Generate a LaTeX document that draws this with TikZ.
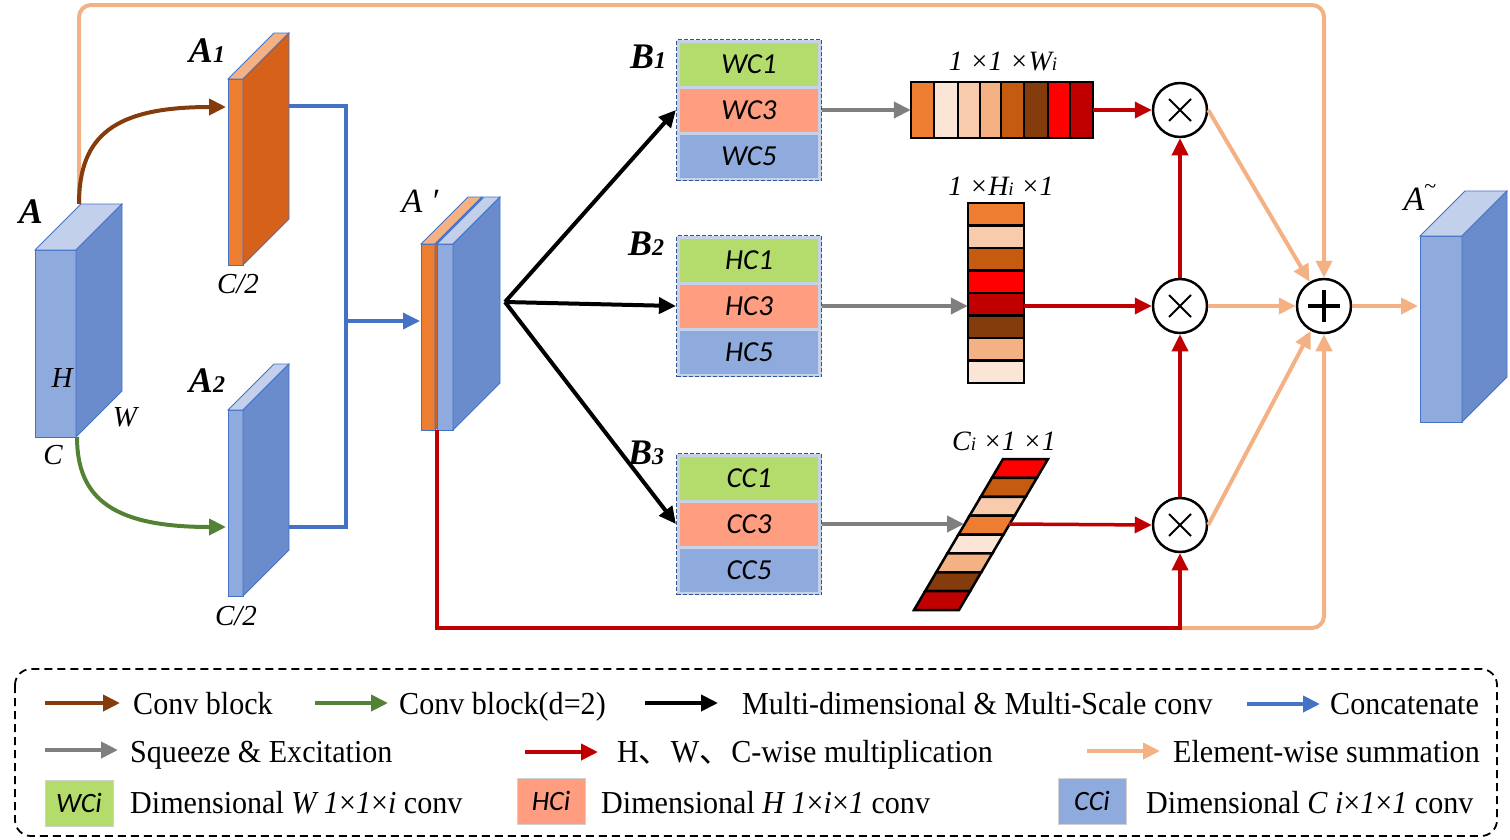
\documentclass[tikz,border=0pt]{standalone}
\usepackage{fontspec}
\setmainfont{Liberation Serif}
\newfontfamily\cali{Carlito}
\newfontfamily\cjk{Noto Sans CJK SC}
\newfontfamily\legf[FakeStretch=0.94]{Liberation Serif}
\usetikzlibrary{arrows.meta,calc}
\newcommand\myfs[1]{\fontsize{#1}{#1}\selectfont}
\definecolor{fblue}{HTML}{8FAADC}
\definecolor{sblue}{HTML}{6A8CCD}
\definecolor{tblue}{HTML}{C2D0EB}
\definecolor{eblue}{HTML}{4472C4}
\definecolor{forange}{HTML}{ED7D31}
\definecolor{sorange}{HTML}{D5611A}
\definecolor{torange}{HTML}{F4B183}
\definecolor{peach}{HTML}{F4B183}
\definecolor{cbrown}{HTML}{843C0C}
\definecolor{cgreen}{HTML}{548235}
\definecolor{cred}{HTML}{C00000}
\definecolor{cgray}{HTML}{7F7F7F}
\definecolor{cblue}{HTML}{4472C4}
\definecolor{cellg}{HTML}{B4DC6C}
\definecolor{cells}{HTML}{FF9D80}
\definecolor{cellb}{HTML}{8FAADC}
\definecolor{bbg}{HTML}{C5D2E8}
\definecolor{bdash}{HTML}{2F5597}
\definecolor{p1}{HTML}{ED7D31}
\definecolor{p2}{HTML}{FBE5D6}
\definecolor{p3}{HTML}{F8CBAD}
\definecolor{p4}{HTML}{F4B183}
\definecolor{p5}{HTML}{C55A11}
\definecolor{p6}{HTML}{843C0C}
\definecolor{p7}{HTML}{FF0000}
\definecolor{p8}{HTML}{C00000}
% x0 y0 w h d front side top
\newcommand\prism[8]{%
 \filldraw[draw=eblue, line width=0.8pt, fill=#6] (#1,#2) rectangle ++(#3,#4);
 \filldraw[draw=eblue, line width=0.8pt, fill=#8] (#1,#2) -- ++(#3,0) -- ++(#5,-#5) -- ++(-#3,0) -- cycle;
 \filldraw[draw=eblue, line width=0.8pt, fill=#7] (#1+#3,#2) -- ++(#5,-#5) -- ++(0,#4) -- ++(-#5,#5) -- cycle;
}
\tikzset{
 tipA/.style={-{Triangle[length=17pt,width=16pt]}},
 bboxst/.style={draw=bdash, dash pattern=on 4pt off 2pt, line width=1.2pt, fill=bbg, minimum width=145pt, minimum height=141pt, inner sep=0},
 cellst/.style={minimum width=138pt, minimum height=43pt, inner sep=0, font=\cali\itshape\myfs{29}},
 circ/.style={circle, draw=black, line width=2.5pt, minimum size=54pt, inner sep=0, fill=white},
 lbl/.style={inner sep=0, anchor=base},
 bigl/.style={lbl, font=\bfseries\itshape\myfs{36}},
 midl/.style={lbl, font=\itshape\myfs{29}},
 dimlbl/.style={lbl, font=\itshape\myfs{28}},
 legtxt/.style={inner sep=0, anchor=base west, font=\legf\myfs{32}},
 legarr/.style={line width=4pt, tipA},
 legsq/.style={draw=black!18, line width=0.8pt, minimum width=68pt, minimum height=46pt, inner sep=0, font=\cali\itshape\myfs{28}},
 barcell/.style={draw=black, line width=2.5pt},
}
\begin{document}
\begin{tikzpicture}[x=1pt,y=-1pt]
\useasboundingbox (0,0) rectangle (1510,839);

% ---------- cubes ----------
\prism{35}{250}{41}{187}{46}{fblue}{sblue}{tblue}
\prism{228}{79}{15}{186}{46}{forange}{sorange}{torange}
\prism{228}{410}{15}{186}{46}{fblue}{sblue}{tblue}
\prism{421}{244}{14}{186}{47}{forange}{sorange}{torange}
\prism{437}{244}{16}{186}{47}{fblue}{sblue}{tblue}
\prism{1420}{236}{42}{186}{45}{fblue}{sblue}{tblue}

\coordinate (Atop) at (79,204);
\coordinate (Abot) at (77,437);
\coordinate (A1in) at (226,107);
\coordinate (A2in) at (226,527);
\coordinate (A1out) at (289,106);
\coordinate (A2out) at (289,527);
\coordinate (Jc) at (346,321);
\coordinate (Apin) at (420,321);
\coordinate (Apout) at (505,302);
\coordinate (Apbot) at (437,430);
\coordinate (Atin) at (1418,306);

% ---------- labels ----------
\node[bigl] at (31,223) {A};
\node[bigl] at (207,62) {A\myfs{24}1};
\node[bigl] at (207,392) {A\myfs{24}2};
\node[midl] at (62,387) {H};
\node[midl] at (125,426) {W};
\node[midl] at (53,464) {C};
\node[midl] at (238,293) {C/2};
\node[midl] at (236,625) {C/2};
\node[lbl, font=\itshape\myfs{34}] at (420,212) {A \char"2032};
\node[lbl, font=\itshape\myfs{34}] at (1420,210) {A\raisebox{17pt}{\upshape\myfs{22}\textasciitilde}};

% ---------- B boxes ----------
\node[bboxst] (B1) at (749,110) {};
\node[cellst, fill=cellg] (wc1) at (749,64) {WC1};
\node[cellst, fill=cells] (wc3) at (749,110) {WC3};
\node[cellst, fill=cellb] (wc5) at (749,156) {WC5};
\node[bboxst] (B2) at (749,306) {};
\node[cellst, fill=cellg] (hc1) at (749,260) {HC1};
\node[cellst, fill=cells] (hc3) at (749,306) {HC3};
\node[cellst, fill=cellb] (hc5) at (749,352) {HC5};
\node[bboxst] (B3) at (749,524) {};
\node[cellst, fill=cellg] (cc1) at (749,478) {CC1};
\node[cellst, fill=cells] (cc3) at (749,524) {CC3};
\node[cellst, fill=cellb] (cc5) at (749,570) {CC5};
\node[bigl] at (648,68) {B\myfs{24}1};
\node[bigl] at (646,255) {B\myfs{24}2};
\node[bigl] at (646,464) {B\myfs{24}3};

% ---------- bars ----------
\foreach \xa/\xb/\c in {911/934/p1, 934/958/p2, 958/980/p3, 980/1001/p4, 1001/1024/p5, 1024/1048/p6, 1048/1070/p7, 1070/1093/p8}
  \filldraw[barcell, fill=\c] (\xa,82) rectangle (\xb,138);
\node[minimum width=182pt, minimum height=56pt, inner sep=0] (Wbar) at (1002,110) {};
\node[dimlbl] at (1003,70) {1 ×1 ×W{\myfs{19}i}};

\foreach \ya/\yb/\c in {203/225.5/p1, 225.5/248/p3, 248/270.5/p5, 270.5/293/p7, 293/315.5/p8, 315.5/338/p6, 338/360.5/p4, 360.5/383/p2}
  \filldraw[barcell, fill=\c] (968,\ya) rectangle (1024,\yb);
\node[minimum width=56pt, minimum height=180pt, inner sep=0] (Hbar) at (996,293) {};
\node[dimlbl] at (1001,195) {1 ×H{\myfs{19}i} ×1};

\foreach \ya/\xa/\yb/\xb/\c in {459/1003/477.875/991.875/p7, 477.875/991.875/496.75/980.75/p5, 496.75/980.75/515.625/969.625/p3, 515.625/969.625/534.5/958.5/p1, 534.5/958.5/553.375/947.375/p2, 553.375/947.375/572.25/936.25/p4, 572.25/936.25/591.125/925.125/p6, 591.125/925.125/610/914/p8}
  \filldraw[barcell, fill=\c, line join=miter] (\xa,\ya) -- (\xa+45,\ya) -- (\xb+45,\yb) -- (\xb,\yb) -- cycle;
\coordinate (Cin) at (964,524);
\coordinate (Cout) at (1009,524);
\node[dimlbl] at (1004,450) {C{\myfs{19}i} ×1 ×1};

% ---------- circles ----------
\node[circ] (m1) at (1180,110) {};
\node[circ] (m2) at (1180,306) {};
\node[circ] (m3) at (1180,525) {};
\node[circ] (pl) at (1324,306) {};
\foreach \m in {m1,m2,m3} {
  \draw[line width=2pt] ($(\m)+(-11,-11)$) -- ($(\m)+(11,11)$);
  \draw[line width=2pt] ($(\m)+(-11,11)$) -- ($(\m)+(11,-11)$);
}
\draw[line width=3.5pt] ($(pl)+(-16,0)$) -- ($(pl)+(16,0)$);
\draw[line width=3.5pt] ($(pl)+(0,-16)$) -- ($(pl)+(0,16)$);

\coordinate (tl) at (79,5);
\coordinate (tr) at (1324,5);
\coordinate (rb) at (1180,628);
\coordinate (br) at (1324,628);

% ---------- connectors ----------
\draw[peach, line width=4pt, rounded corners=12pt, tipA] (Atop) -- (tl) -- (tr) -- (pl.north);
\draw[cbrown, line width=4pt, tipA] (Atop) .. controls (79,135) and (115,107) .. (A1in);
\draw[cgreen, line width=4pt, tipA] (Abot) .. controls (77,500) and (115,527) .. (A2in);
\draw[cblue, line width=3.5pt] (A1out) -| (Jc);
\draw[cblue, line width=3.5pt] (A2out) -| (Jc);
\draw[cblue, line width=3.5pt, tipA] (Jc) -- (Apin);
\draw[black, line width=4pt, tipA] (Apout) -- (B1.west);
\draw[black, line width=4pt, tipA] (Apout) -- (B2.west);
\draw[black, line width=4pt, tipA] (Apout) -- (B3.west);
\draw[cgray, line width=4pt, tipA] (B1.east) -- (Wbar.west);
\draw[cgray, line width=4pt, tipA] (B2.east) -- (Hbar.west |- B2.east);
\draw[cgray, line width=4pt, tipA] (B3.east) -- (Cin);
\draw[cred, line width=3.5pt, tipA] (Wbar.east) -- (m1.west);
\draw[cred, line width=3.5pt, tipA] (Hbar.east |- m2.west) -- (m2.west);
\draw[cred, line width=3.5pt, tipA] (Cout) -- (m3.west);
\draw[cred, line width=3.5pt, tipA] (m2.north) -- (m1.south);
\draw[cred, line width=3.5pt, tipA] (m3.north) -- (m2.south);
\draw[peach, line width=4pt, rounded corners=12pt, tipA] (rb) -- (br) -- (pl.south);
\draw[cred, line width=3.5pt, tipA] (Apbot) |- (rb) -- (m3.south);
\draw[peach, line width=4pt, tipA] (m1.east) -- (pl);
\draw[peach, line width=4pt, tipA] (m2.east) -- (pl.west);
\draw[peach, line width=4pt, tipA] (m3.east) -- (pl);
\draw[peach, line width=4pt, tipA] (pl.east) -- (Atin);

% ---------- legend ----------
\draw[line width=1.8pt, dash pattern=on 8pt off 5pt, rounded corners=16pt] (15,669) rectangle (1497,836);
\draw[cbrown, legarr] (45,703) -- (120,703);
\node[legtxt] at (133,714) {Conv block};
\draw[cgreen, legarr] (315,703) -- (388,703);
\node[legtxt] at (399,714) {Conv block(d=2)};
\draw[black, legarr] (645,703) -- (718,703);
\node[legtxt] at (742,714) {Multi-dimensional \& Multi-Scale conv};
\draw[cblue, legarr] (1247,704) -- (1320,704);
\node[legtxt] at (1330,714) {Concatenate};
\draw[cgray, legarr] (45,750) -- (118,750);
\node[legtxt] at (130,762) {Squeeze \& Excitation};
\draw[cred, legarr] (525,752) -- (598,752);
\node[legtxt] at (617,762) {H{\cjk 、}W{\cjk 、}C-wise multiplication};
\draw[peach, legarr] (1087,751) -- (1160,751);
\node[legtxt] at (1173,762) {Element-wise summation};
\node[legsq, fill=cellg] at (79,803) {WCi};
\node[legtxt] at (130,813) {Dimensional \textit{W 1}×\textit{1}×\textit{i} conv};
\node[legsq, fill=cells] at (551,801) {HCi};
\node[legtxt] at (601,813) {Dimensional \textit{H 1}×\textit{i}×\textit{1} conv};
\node[legsq, fill=cellb] at (1092,801) {CCi};
\node[legtxt] at (1146,813) {Dimensional \textit{C i}×\textit{1}×\textit{1} conv};
\end{tikzpicture}
\end{document}
